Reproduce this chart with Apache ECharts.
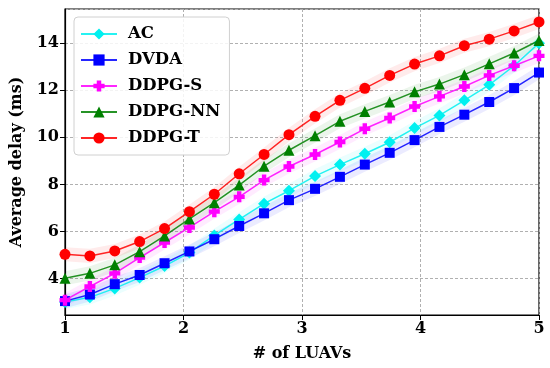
<!DOCTYPE html>
<html>
<head>
<meta charset="utf-8">
<script src="https://cdn.jsdelivr.net/npm/echarts@6/dist/echarts.min.js"></script>
<style>
html,body{margin:0;padding:0;background:#fff;}
#chart{width:550px;height:368px;}
</style>
</head>
<body>
<div id="chart"></div>
<script>
// ---- data ----
const xValues = [1, 1.21, 1.42, 1.63, 1.84, 2.05, 2.26, 2.47, 2.68, 2.89, 3.11, 3.32, 3.53, 3.74, 3.95, 4.16, 4.37, 4.58, 4.79, 5];
const seriesNames = ['AC', 'DVDA', 'DDPG-S', 'DDPG-NN', 'DDPG-T'];
const acValues     = [3.0, 3.2, 3.58, 4.04, 4.53, 5.1, 5.83, 6.51, 7.18, 7.73, 8.35, 8.84, 9.3, 9.79, 10.39, 10.93, 11.57, 12.23, 13.04, 14.0];
const dvdaValues   = [3.04, 3.32, 3.76, 4.15, 4.65, 5.15, 5.67, 6.23, 6.77, 7.33, 7.81, 8.32, 8.84, 9.34, 9.88, 10.44, 10.96, 11.5, 12.09, 12.75];
const ddpgSValues  = [3.08, 3.66, 4.22, 4.89, 5.53, 6.17, 6.84, 7.47, 8.18, 8.76, 9.27, 9.8, 10.36, 10.82, 11.31, 11.74, 12.16, 12.63, 13.04, 13.46];
const ddpgNNValues = [4.01, 4.22, 4.58, 5.14, 5.81, 6.53, 7.22, 7.97, 8.77, 9.45, 10.07, 10.68, 11.1, 11.5, 11.93, 12.26, 12.66, 13.12, 13.58, 14.11];
const ddpgTValues  = [5.03, 4.96, 5.17, 5.57, 6.12, 6.84, 7.58, 8.45, 9.27, 10.11, 10.89, 11.57, 12.08, 12.63, 13.11, 13.46, 13.89, 14.17, 14.52, 14.9];
const bandHalfWidth = [0.3, 0.3, 0.3, 0.3, 0.3];
const xTicks = [1, 2, 3, 4, 5];
const yTicks = [4, 6, 8, 10, 12, 14];

// ---- styles ----
const allValues = [acValues, dvdaValues, ddpgSValues, ddpgNNValues, ddpgTValues];
const colors = ['#00f0f0', '#0000ff', '#ff00ff', '#008000', '#ff0000'];
const symbols = ['diamond', 'rect', 'path://M3,0H7V3H10V7H7V10H3V7H0V3H3Z', 'triangle', 'circle'];
const symbolSizes = [12, 10, 11, 11, 11];
const FONT = 'DejaVu Serif';

const series = [];
allValues.forEach((vals, k) => {
  series.push({
    type: 'custom', name: 'band-' + k, silent: true, z: 1, clip: true,
    data: [[xValues[0], vals[0]]],
    renderItem: (params, api) => {
      const up = vals.map((v, i) => api.coord([xValues[i], v + bandHalfWidth[k]]));
      const lo = vals.map((v, i) => api.coord([xValues[i], v - bandHalfWidth[k]])).reverse();
      return { type: 'polygon', shape: { points: up.concat(lo) }, style: { fill: colors[k], opacity: 0.08 } };
    }
  });
});
allValues.forEach((vals, k) => {
  series.push({
    type: 'line',
    name: seriesNames[k],
    data: vals.map((v, i) => [xValues[i], v]),
    symbol: symbols[k],
    symbolSize: symbolSizes[k],
    itemStyle: { color: colors[k] },
    lineStyle: { color: colors[k], width: 1.5, opacity: 0.85 },
    z: 3 + k
  });
});

const chart = echarts.init(document.getElementById('chart'), null, { renderer: 'canvas' });
chart.setOption({
  animation: false,
  backgroundColor: '#fff',
  grid: { left: 65, right: 11, top: 9, bottom: 53, show: true, borderColor: '#000', borderWidth: 1.2, containLabel: false },
  legend: {
    data: seriesNames,
    left: 74, top: 17,
    orient: 'vertical',
    itemWidth: 36, itemHeight: 14, itemGap: 8,
    padding: [8, 9, 8, 6],
    backgroundColor: 'rgba(255,255,255,0.85)',
    borderColor: '#d0d0d0', borderWidth: 1, borderRadius: 4,
    textStyle: { fontFamily: FONT, fontWeight: 'bold', fontSize: 16.5, color: '#000', lineHeight: 18, padding: [0, 0, 0, 6] }
  },
  xAxis: {
    type: 'value', min: 1, max: 5, interval: 1,
    name: '# of LUAVs', nameLocation: 'middle', nameGap: 31,
    nameTextStyle: { fontFamily: FONT, fontWeight: 'bold', fontSize: 16, color: '#000' },
    axisLine: { show: true, lineStyle: { color: '#000', width: 1.2 } },
    axisTick: { show: true, inside: false, length: 5, lineStyle: { color: '#000' } },
    axisLabel: { fontFamily: FONT, fontWeight: 'bold', fontSize: 16, color: '#000', margin: 6,
      formatter: v => xTicks.includes(v) ? String(v) : '' },
    splitLine: { show: true, lineStyle: { color: '#b0b0b0', type: [3, 2], width: 1 } }
  },
  yAxis: {
    type: 'value', min: 2.45, max: 15.45, splitNumber: 6,
    name: 'Average delay (ms)', nameLocation: 'middle', nameGap: 40, nameRotate: 90,
    nameTextStyle: { fontFamily: FONT, fontWeight: 'bold', fontSize: 16, color: '#000' },
    axisLine: { show: true, lineStyle: { color: '#000', width: 1.2 } },
    axisTick: { show: true, inside: false, length: 5, lineStyle: { color: '#000' } },
    axisLabel: { fontFamily: FONT, fontWeight: 'bold', fontSize: 16, color: '#000', margin: 6,
      showMinLabel: false, showMaxLabel: false,
      formatter: v => yTicks.includes(v) ? String(v) : '' },
    splitLine: { show: true, lineStyle: { color: '#b0b0b0', type: [3, 2], width: 1 } }
  },
  series: series
});
</script>
</body>
</html>
